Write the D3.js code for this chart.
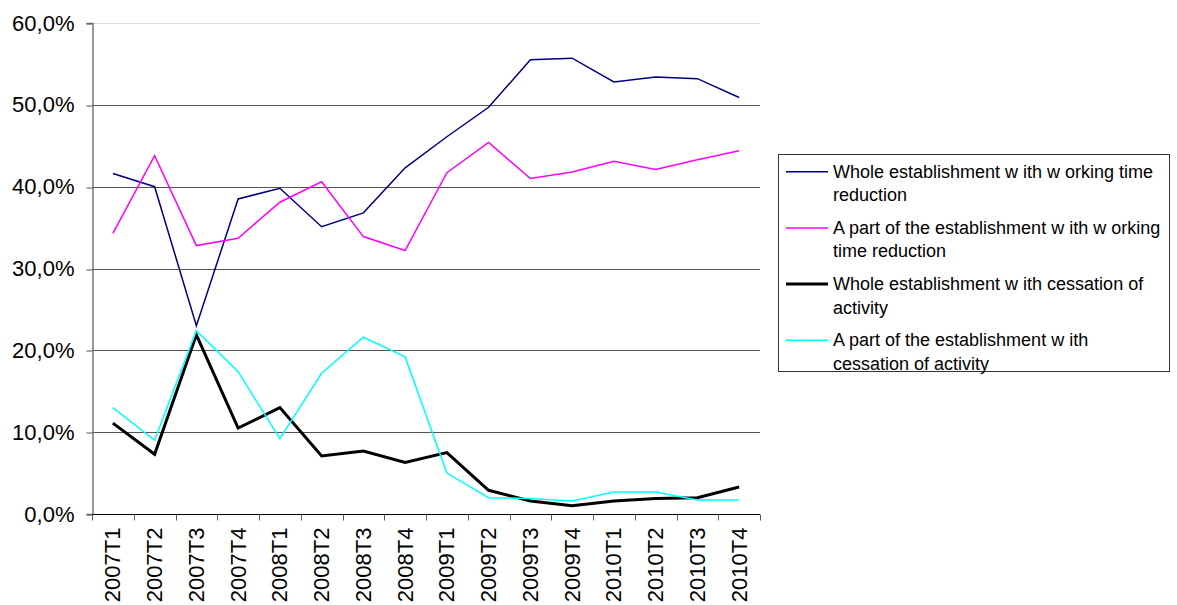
<!DOCTYPE html>
<html>
<head>
<meta charset="utf-8">
<script src="https://cdn.jsdelivr.net/npm/d3@7"></script>
<style>
  body { margin: 0; background: #fff; }
  svg { display: block; font-family: "Liberation Sans", Arial, sans-serif; }
</style>
</head>
<body>
<svg id="chart" width="1177" height="605"></svg>
<script>
// Quarterly share of establishments by type of short-time measure (%)
const quarters = ["2007T1","2007T2","2007T3","2007T4","2008T1","2008T2","2008T3","2008T4",
                  "2009T1","2009T2","2009T3","2009T4","2010T1","2010T2","2010T3","2010T4"];
const wholeWorkingTime = [41.6, 40.0, 23.0, 38.5, 39.8, 35.1, 36.8, 42.3, 46.1, 49.7, 55.5, 55.7, 52.8, 53.4, 53.2, 50.9];
const partWorkingTime  = [34.3, 43.8, 32.8, 33.7, 38.1, 40.6, 33.9, 32.2, 41.7, 45.4, 41.0, 41.8, 43.1, 42.1, 43.3, 44.4];
const wholeCessation   = [11.1, 7.3, 21.9, 10.5, 13.0, 7.1, 7.7, 6.3, 7.5, 2.9, 1.6, 1.0, 1.6, 1.9, 2.0, 3.3];
const partCessation    = [13.0, 9.0, 22.4, 17.4, 9.2, 17.2, 21.6, 19.2, 5.0, 2.0, 1.9, 1.6, 2.7, 2.7, 1.7, 1.7];
const yTicks = [0, 10, 20, 30, 40, 50, 60];
const seriesNames = [
  ["Whole establishment w ith w orking time", "reduction"],
  ["A part of the establishment w ith w orking", "time reduction"],
  ["Whole establishment w ith cessation of", "activity"],
  ["A part of the establishment w ith", "cessation of activity"]
];

const series = [
  { name: seriesNames[0], values: wholeWorkingTime, color: "#000080", width: 1.5 },
  { name: seriesNames[1], values: partWorkingTime,  color: "#ff00ff", width: 1.5 },
  { name: seriesNames[2], values: wholeCessation,   color: "#000000", width: 3 },
  { name: seriesNames[3], values: partCessation,    color: "#00ffff", width: 1.5 }
];

const svg = d3.select("#chart");
const plot = { left: 92, right: 760, top: 23, bottom: 514 };

const x = d3.scaleBand().domain(quarters).range([plot.left, plot.right]).padding(0);
const y = d3.scaleLinear().domain([0, 60]).range([plot.bottom, plot.top]);

// Horizontal gridlines
svg.append("g")
  .selectAll("line")
  .data(yTicks.filter(d => d > 0))
  .join("line")
  .attr("x1", plot.left).attr("x2", plot.right)
  .attr("y1", d => Math.round(y(d)) + 0.5).attr("y2", d => Math.round(y(d)) + 0.5)
  .attr("stroke", d => d === 60 ? "#dddddd" : "#555555")
  .attr("stroke-width", 1);

// Y axis
const yAxis = svg.append("g")
  .attr("transform", `translate(${plot.left + 0.5},0)`)
  .call(d3.axisLeft(y).tickValues(yTicks).tickSize(6).tickPadding(12)
    .tickFormat(d => d.toFixed(1).replace(".", ",") + "%"));
yAxis.select(".domain").attr("stroke", "#777777").attr("stroke-width", 1.5);
yAxis.selectAll(".tick line").attr("stroke", "#555555");
yAxis.selectAll(".tick line").attr("transform", d => `translate(0,${Math.round(y(d)) + 0.5 - y(d)})`);
yAxis.selectAll("text").attr("font-size", 22).attr("fill", "#000")
  .attr("font-family", "Liberation Sans, Arial, sans-serif");

// X axis with tick marks on band boundaries
const xAxisG = svg.append("g").attr("transform", `translate(0,${plot.bottom + 0.5})`);
xAxisG.append("line")
  .attr("x1", plot.left).attr("x2", plot.right)
  .attr("stroke", "#000").attr("stroke-width", 1.2);
const boundaries = quarters.map(q => x(q)).concat([x(quarters[quarters.length - 1]) + x.bandwidth()]);
xAxisG.selectAll("line.tick")
  .data(boundaries)
  .join("line")
  .attr("class", "tick")
  .attr("x1", d => Math.round(d) + 0.5).attr("x2", d => Math.round(d) + 0.5)
  .attr("y1", 0).attr("y2", 6)
  .attr("stroke", "#555555");
xAxisG.selectAll("text")
  .data(quarters)
  .join("text")
  .attr("transform", d => `translate(${x(d) + x.bandwidth() / 2 + 7.5},${13}) rotate(-90)`)
  .attr("text-anchor", "end")
  .attr("font-size", 22)
  .attr("fill", "#000")
  .text(d => d);

// Lines
const line = d3.line()
  .x((d, i) => x(quarters[i]) + x.bandwidth() / 2)
  .y(d => y(d));

svg.append("g")
  .selectAll("path")
  .data(series)
  .join("path")
  .attr("d", s => line(s.values))
  .attr("fill", "none")
  .attr("stroke", s => s.color)
  .attr("stroke-width", s => s.width)
  .attr("stroke-linejoin", "miter");

// Legend
const legend = svg.append("g");
legend.append("rect")
  .attr("x", 778.5).attr("y", 154.5)
  .attr("width", 391).attr("height", 217)
  .attr("fill", "#fff").attr("stroke", "#333").attr("stroke-width", 1);

const items = legend.selectAll("g.item")
  .data(series)
  .join("g")
  .attr("class", "item")
  .attr("transform", (d, i) => `translate(0,${171.7 + i * 56.2})`);
items.append("line")
  .attr("x1", 786).attr("x2", 828)
  .attr("y1", 0).attr("y2", 0)
  .attr("stroke", d => d.color)
  .attr("stroke-width", d => d.width === 3 ? 3 : 1.5);
items.append("text")
  .attr("font-size", 18)
  .attr("fill", "#000")
  .selectAll("tspan")
  .data(d => d.name)
  .join("tspan")
  .attr("x", 833)
  .attr("y", (d, i) => i * 23.5 + 6)
  .text(d => d);
</script>
</body>
</html>
